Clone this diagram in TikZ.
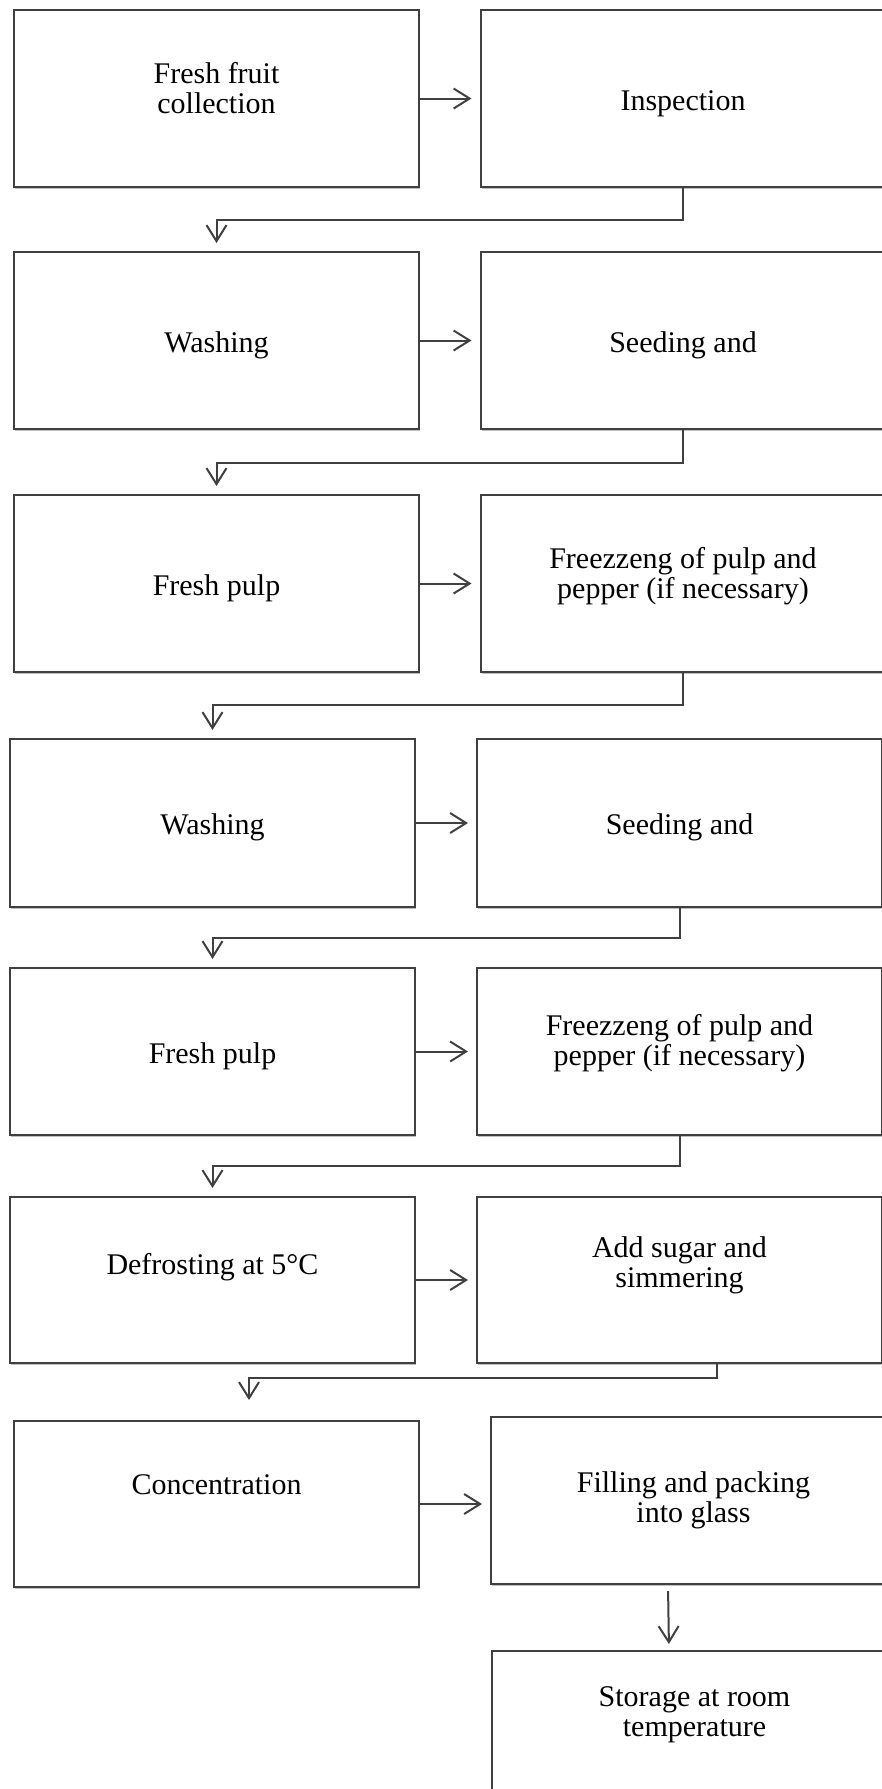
\documentclass[tikz,border=0pt]{standalone}
\usepackage{fontspec}
\setmainfont{Liberation Serif}
\usetikzlibrary{arrows.meta,shadows}

\tikzset{
  box/.style={draw=black!75, line width=1pt, fill=white, align=center,
    minimum width=202.5pt, minimum height=#1, inner sep=0pt,
    font=\fontsize{15pt}{15pt}\selectfont,
    drop shadow={shadow xshift=0.6pt, shadow yshift=-1.2pt, fill=black, opacity=0.25}},
  box/.default=88.5pt,
  lift/.style={text depth=#1},
  sink/.style={text height=15pt},
  link/.style={draw=black!75, line width=1pt,
    -{Straight Barb[length=8pt,width=10pt,line width=1pt]}}
}

\begin{document}
\begin{tikzpicture}[x=0.5pt,y=-0.5pt]
\useasboundingbox (0,0) rectangle (882,1789);

% steps, two per row
\node[box, lift=11pt] (l1) at (216.5,98.5) {Fresh fruit\\collection};
\node[box, sink] (r1) at (683,98.5) {Inspection};
\node[box, sink] (l2) at (216.5,340.5) {Washing};
\node[box, sink] (r2) at (683,340.5) {Seeding and};
\node[box, sink] (l3) at (216.5,583.5) {Fresh pulp};
\node[box, lift=11pt] (r3) at (683,583.5) {Freezzeng of pulp and\\pepper (if necessary)};
\node[box=84pt, sink] (l4) at (212.5,823) {Washing};
\node[box=84pt, sink] (r4) at (679.5,823) {Seeding and};
\node[box=83.5pt, sink] (l5) at (212.5,1051.5) {Fresh pulp};
\node[box=83.5pt, lift=12pt] (r5) at (679.5,1051.5) {Freezzeng of pulp and\\pepper (if necessary)};
\node[box=83pt, lift=16pt] (l6) at (212.5,1280) {Defrosting at 5°C};
\node[box=83pt, lift=18pt] (r6) at (679.5,1280) {Add sugar and\\simmering};
\node[box=83pt, lift=19pt] (l7) at (216.5,1504) {Concentration};
\node[box=83.5pt] (r7) at (693.5,1500.5) {Filling and packing\\into glass};
\node[box=100pt, lift=39pt] (r8) at (694.5,1751) {Storage at room\\temperature};

% arrows
\foreach \i in {1,...,6}
  \draw[link, shorten >=4pt] (l\i.east) -- (r\i.west);
\draw[link, shorten >=4pt] (l7.east) -- (l7.east -| r7.west);
\foreach \a/\b/\d in {r1/l2/32,r2/l3/33,r3/l4/32,r4/l5/30,r5/l6/30}
  \draw[link, shorten >=4pt] (\a.south) -- ++(0,\d) -| (\b.north);
\draw[link, shorten >=10pt] ([xshift=18.75pt]r6.south) -- ++(0,14) -| ([xshift=16.25pt]l7.north);
\draw[link, shorten <=3pt, shorten >=3pt] ([xshift=-12.75pt]r7.south) -- ([xshift=-12.75pt]r8.north);
\end{tikzpicture}
\end{document}
